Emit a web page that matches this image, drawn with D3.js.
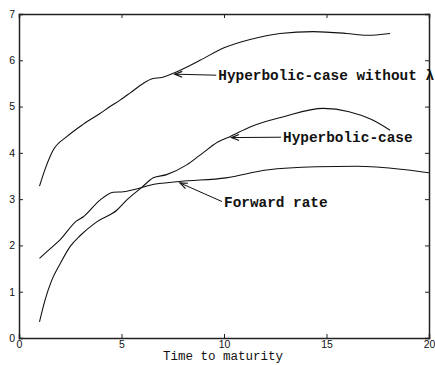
<!DOCTYPE html>
<html>
<head>
<meta charset="utf-8">
<script src="https://cdn.jsdelivr.net/npm/d3@7"></script>
<style>
  html, body { margin: 0; padding: 0; background: #fff; }
  svg { display: block; }
</style>
</head>
<body>
<div id="chart"></div>
<script>
// Term-structure curves against time to maturity (years)
const xTicks = [0, 5, 10, 15, 20];
const yTicks = [0, 1, 2, 3, 4, 5, 6, 7];

const hypNoLambdaX = [1, 1.3, 1.67, 2.33, 3.14, 3.95, 4.44, 4.93, 5.41, 6.06, 6.5, 6.96, 7.53, 8.83, 10, 11.27, 12.73, 14.36, 15.98, 16.96, 18.1];
const hypNoLambdaY = [3.28, 3.68, 4.06, 4.35, 4.62, 4.85, 5.0, 5.14, 5.29, 5.5, 5.6, 5.63, 5.72, 6.0, 6.27, 6.45, 6.58, 6.62, 6.58, 6.54, 6.58];

const hypX = [1, 1.27, 1.6, 2.0, 2.5, 3.0, 3.79, 4.77, 5.3, 5.98, 6.55, 7.2, 8.18, 8.83, 9.72, 10.29, 11.27, 12.9, 14.85, 16.1, 17.2, 18.1];
const hypY = [0.35, 0.82, 1.25, 1.6, 1.98, 2.22, 2.51, 2.76, 3.0, 3.25, 3.46, 3.53, 3.74, 3.95, 4.24, 4.35, 4.56, 4.78, 4.96, 4.89, 4.72, 4.49];

const fwdX = [1, 1.5, 2, 2.81, 3.14, 3.95, 4.6, 5.09, 5.9, 6.39, 7.85, 10.1, 12.08, 14.5, 16.47, 18.75, 20];
const fwdY = [1.72, 1.92, 2.12, 2.53, 2.62, 2.98, 3.15, 3.16, 3.24, 3.3, 3.38, 3.46, 3.63, 3.7, 3.71, 3.64, 3.57];

// Annotation: label, arrow tip (x, y) and text anchor (x, y) in data units
const annLabels = ["Hyperbolic-case without \u03bb", "Hyperbolic-case", "Forward rate"];
const annTipX = [7.6, 10.37, 7.85];
const annTipY = [5.7, 4.33, 3.35];
const annTextX = [9.72, 12.88, 10.0];
const annTextY = [5.57, 4.23, 2.84];

const W = 435, H = 365;
const x0 = 19, x1 = 429, yTop = 14, yBot = 338;

const x = d3.scaleLinear().domain([0, 20]).range([x0, x1]);
const y = d3.scaleLinear().domain([0, 7]).range([yBot, yTop]);

const svg = d3.select("#chart").append("svg")
  .attr("width", W).attr("height", H);

const series = [
  { xs: hypNoLambdaX, ys: hypNoLambdaY },
  { xs: hypX, ys: hypY },
  { xs: fwdX, ys: fwdY }
];

const line = d3.line()
  .x(d => x(d[0]))
  .y(d => y(d[1]))
  .curve(d3.curveMonotoneX);

svg.append("g").selectAll("path")
  .data(series)
  .join("path")
  .attr("d", s => line(s.xs.map((v, i) => [v, s.ys[i]])))
  .attr("fill", "none")
  .attr("stroke", "#111")
  .attr("stroke-width", 1.1);

// Axes on all four sides, ticks pointing inward
const axisColor = "#222";
const tickFont = "'Liberation Sans', Arial, sans-serif";

const axisBottomG = svg.append("g").attr("transform", `translate(0,${yBot})`)
  .call(d3.axisBottom(x).tickValues(xTicks).tickSize(-4).tickPadding(3).tickFormat(d3.format("d")));
const axisTopG = svg.append("g").attr("transform", `translate(0,${yTop})`)
  .call(d3.axisTop(x).tickValues(xTicks).tickSize(-4).tickFormat(""));
const axisLeftG = svg.append("g").attr("transform", `translate(${x0},0)`)
  .call(d3.axisLeft(y).tickValues(yTicks).tickSize(-4).tickPadding(4).tickFormat(d3.format("d")));
const axisRightG = svg.append("g").attr("transform", `translate(${x1},0)`)
  .call(d3.axisRight(y).tickValues(yTicks).tickSize(-4).tickFormat(""));

[axisBottomG, axisTopG, axisLeftG, axisRightG].forEach(g => {
  g.select(".domain").attr("stroke", axisColor).attr("stroke-width", 1.5);
  g.selectAll(".tick line").attr("stroke", axisColor).attr("stroke-width", 1);
  g.selectAll(".tick text")
    .attr("fill", "#111")
    .style("font-family", tickFont)
    .style("font-size", "10.5px");
});

// Axis title
svg.append("text")
  .attr("x", (x0 + x1) / 2 - 1)
  .attr("y", 359.5)
  .attr("text-anchor", "middle")
  .style("font-family", "'Liberation Mono', 'Courier New', monospace")
  .style("font-size", "12.5px")
  .attr("fill", "#111")
  .text("Time to maturity");

// Arrow annotations
const ann = svg.append("g");
annLabels.forEach((label, i) => {
  const tx = x(annTipX[i]), ty = y(annTipY[i]);
  const sx = x(annTextX[i]) - 2, sy = y(annTextY[i]) - 5;
  ann.append("line")
    .attr("x1", sx).attr("y1", sy)
    .attr("x2", tx).attr("y2", ty)
    .attr("stroke", "#111").attr("stroke-width", 1);
  const ang = Math.atan2(sy - ty, sx - tx);
  const len = 8, spread = 0.38;
  const p1 = [tx + len * Math.cos(ang + spread), ty + len * Math.sin(ang + spread)];
  const p2 = [tx + len * Math.cos(ang - spread), ty + len * Math.sin(ang - spread)];
  ann.append("path")
    .attr("d", `M${p1[0]},${p1[1]} L${tx},${ty} L${p2[0]},${p2[1]}`)
    .attr("fill", "none")
    .attr("stroke", "#111").attr("stroke-width", 1.2);
  ann.append("text")
    .attr("x", x(annTextX[i]))
    .attr("y", y(annTextY[i]))
    .style("font-family", "'Liberation Mono', 'Courier New', monospace")
    .style("font-size", "14.4px")
    .style("font-weight", "bold")
    .attr("fill", "#111")
    .text(label);
});
</script>
</body>
</html>
